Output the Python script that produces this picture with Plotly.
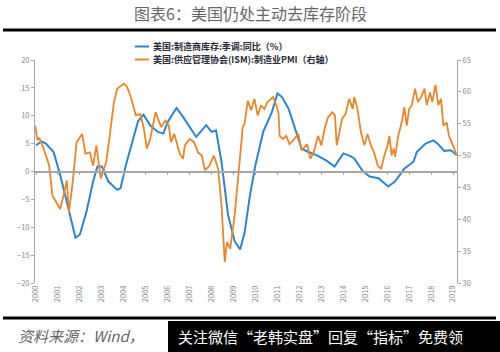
import plotly.graph_objects as go

# ---------------- data (x = position in years) ----------------
inv_x = [2000.0, 2000.25, 2000.45, 2000.65, 2000.8, 2001.1, 2001.4, 2001.6, 2001.8, 2002.0,
         2002.3, 2002.6, 2002.8, 2003.0, 2003.3, 2003.7, 2003.85, 2004.1, 2004.4, 2004.65,
         2004.9, 2005.2, 2005.55, 2005.8, 2006.0, 2006.4, 2006.7, 2007.0, 2007.3, 2007.75,
         2008.0, 2008.2, 2008.45, 2008.75, 2009.05, 2009.3, 2009.5, 2009.75, 2010.0, 2010.35,
         2010.75, 2011.0, 2011.2, 2011.5, 2011.8, 2012.1, 2012.4, 2012.8, 2013.25, 2013.6,
         2014.0, 2014.3, 2014.5, 2014.9, 2015.2, 2015.6, 2016.05, 2016.35, 2016.8, 2017.2,
         2017.35, 2017.75, 2018.1, 2018.3, 2018.6, 2018.9, 2019.17]
inv_y = [4.7, 5.4, 5.0, 4.1, 3.5, -0.6, -5.4, -9.0, -11.9, -11.3,
         -7.2, -1.8, 0.9, 0.9, -1.8, -3.3, -3.0, 1.2, 5.3, 9.0,
         10.2, 8.3, 7.1, 6.8, 8.9, 11.4, 9.8, 8.0, 6.2, 8.3,
         7.1, 7.4, 1.75, -7.8, -12.5, -14.0, -11.0, -4.2, 1.2, 7.1,
         10.7, 14.0, 13.4, 11.3, 7.7, 4.1, 3.5, 2.9, 1.9, 0.9,
         3.25, 2.8, 2.35, 0.0, -0.9, -1.2, -2.7, -1.8, 0.6, 1.75,
         3.5, 5.0, 5.6, 5.0, 3.7, 3.8, 2.9]

pmi_x = [1999.96, 2000.07, 2000.15, 2000.35, 2000.6, 2000.75, 2001.0, 2001.1, 2001.25, 2001.4,
         2001.5, 2001.67, 2001.85, 2002.1, 2002.25, 2002.45, 2002.6, 2002.75, 2002.95, 2003.2,
         2003.35, 2003.55, 2003.7, 2004.0, 2004.15, 2004.3, 2004.55, 2004.75, 2004.9, 2005.05,
         2005.2, 2005.45, 2005.7, 2005.9, 2006.05, 2006.15, 2006.3, 2006.55, 2006.7, 2006.78,
         2007.0, 2007.2, 2007.38, 2007.55, 2007.7, 2007.9, 2008.1, 2008.3, 2008.45, 2008.6,
         2008.7, 2008.85, 2009.05, 2009.3, 2009.42, 2009.5, 2009.65, 2009.8, 2009.95, 2010.1,
         2010.25, 2010.4, 2010.55, 2010.8, 2010.95, 2011.05, 2011.1, 2011.25, 2011.4, 2011.55,
         2011.7, 2011.95, 2012.1, 2012.35, 2012.5, 2012.65, 2012.85, 2013.0, 2013.15, 2013.3,
         2013.5, 2013.62, 2013.7, 2013.95, 2014.1, 2014.27, 2014.43, 2014.5, 2014.65, 2014.8,
         2014.96, 2015.1, 2015.26, 2015.4, 2015.57, 2015.72, 2015.87, 2016.02, 2016.1, 2016.2,
         2016.3, 2016.36, 2016.5, 2016.66, 2016.78, 2016.89, 2017.0, 2017.12, 2017.27, 2017.4,
         2017.55, 2017.7, 2017.8, 2017.95, 2018.05, 2018.2, 2018.33, 2018.45, 2018.56, 2018.71,
         2018.81, 2018.94, 2019.09, 2019.17]
pmi_y = [54.7, 52.4, 52.8, 51.1, 48.4, 43.7, 42.2, 41.6, 43.7, 46.1,
         41.1, 45.8, 52.1, 53.4, 50.3, 50.5, 48.4, 51.6, 46.4, 49.0,
         52.9, 58.4, 60.5, 61.3, 60.8, 59.4, 56.3, 56.5, 54.5, 51.1,
         52.6, 56.8, 54.5, 55.5, 54.7, 52.1, 53.4, 50.3, 49.5, 51.6,
         52.6, 52.1, 50.5, 50.0, 47.7, 48.4, 50.0, 47.9, 42.2, 33.3,
         36.4, 35.4, 40.6, 50.5, 54.5, 55.0, 58.6, 57.1, 58.9, 56.3,
         57.9, 57.3, 58.4, 59.2, 57.9, 56.6, 53.1, 52.6, 53.1, 51.8,
         52.3, 53.4, 50.8, 51.8, 49.5, 50.5, 53.1, 51.6, 54.2, 56.0,
         56.8, 56.3, 51.6, 55.8, 56.5, 58.9, 57.3, 59.2, 57.3, 53.7,
         51.6, 53.4, 51.6, 50.5, 48.4, 47.9, 50.0, 51.6, 53.1, 50.0,
         51.1, 49.8, 53.1, 55.2, 57.6, 54.7, 57.3, 57.9, 60.5, 58.4,
         59.2, 60.5, 57.9, 59.9, 58.4, 61.1, 57.9, 58.9, 54.7, 55.2,
         53.1, 52.1, 50.8, 50.0]

years = list(range(2000, 2020))
year_labels = [str(y) for y in years]

name_inv = "美国:制造商库存:季调:同比（%）"
name_pmi = "美国:供应管理协会(ISM):制造业PMI（右轴）"
title_text = "图表6：美国仍处主动去库存阶段"
source_text = "资料来源：Wind，"
promo_text = "关注微信“老韩实盘”回复“指标”免费领"

BLUE = "#2e86c8"
ORANGE = "#e8862c"
GRAY = "#a6a6a6"
FONT = "Noto Sans CJK SC"

fig = go.Figure()
fig.add_trace(go.Scatter(x=inv_x, y=inv_y, mode="lines", name=name_inv,
                         line=dict(color=BLUE, width=2), yaxis="y"))
fig.add_trace(go.Scatter(x=pmi_x, y=pmi_y, mode="lines", name=name_pmi,
                         line=dict(color=ORANGE, width=1.8), yaxis="y2"))
# invisible helper trace for the zero-line tick axis
fig.add_trace(go.Scatter(x=[years[0]], y=[0], mode="markers", xaxis="x2", yaxis="y",
                         marker=dict(opacity=0), showlegend=False, hoverinfo="skip"))

xr = [1999.954, 2019.18]

fig.update_layout(
    width=500, height=352,
    margin=dict(l=35, r=43, t=60, b=69),
    paper_bgcolor="white", plot_bgcolor="white",
    font=dict(family=FONT, color="#888888", size=8),
    showlegend=False,
    xaxis=dict(range=xr, tickvals=years, ticktext=year_labels, tickangle=-90,
               showgrid=False, zeroline=False, showline=False, ticks="",
               tickfont=dict(size=7.5, color="#8a8a8a")),
    xaxis2=dict(range=xr, overlaying="x", anchor="free", position=0.5,
                tickvals=years, showticklabels=False, ticks="outside", ticklen=3,
                tickcolor=GRAY, showline=True, linecolor=GRAY, linewidth=1.5,
                showgrid=False, zeroline=False),
    yaxis=dict(range=[-20, 20], dtick=5, showgrid=False, zeroline=False,
               showline=True, linecolor=GRAY, linewidth=1, ticks="outside",
               ticklen=3, tickcolor=GRAY, tickfont=dict(size=7.5, color="#8a8a8a")),
    yaxis2=dict(range=[30, 65], dtick=5, overlaying="y", side="right",
                showgrid=False, zeroline=False, showline=True, linecolor=GRAY,
                linewidth=1, ticks="outside", ticklen=3, tickcolor=GRAY,
                tickfont=dict(size=7.5, color="#8a8a8a")),
)

# paper conversions: plot spans pixel x 35..457, y 60..283
def px(X):
    return (X - 35) / 422.0

def py(Y):
    return (283 - Y) / 223.0

LEG_Y = [46.5, 59.5]

shapes = [
    dict(type="line", xref="paper", yref="paper", x0=px(3), x1=px(496), y0=py(30), y1=py(30),
         line=dict(color="black", width=3)),
    dict(type="line", xref="paper", yref="paper", x0=px(3), x1=px(496), y0=py(318), y1=py(318),
         line=dict(color="black", width=3)),
    dict(type="rect", xref="paper", yref="paper", x0=px(168), x1=px(501), y0=py(321), y1=py(353),
         fillcolor="black", line=dict(width=0)),
    # legend samples
    dict(type="line", xref="paper", yref="paper", x0=px(135), x1=px(149), y0=py(LEG_Y[0]), y1=py(LEG_Y[0]),
         line=dict(color=BLUE, width=2)),
    dict(type="line", xref="paper", yref="paper", x0=px(135), x1=px(149), y0=py(LEG_Y[1]), y1=py(LEG_Y[1]),
         line=dict(color=ORANGE, width=2)),
]
fig.update_layout(shapes=shapes)

for name, Y in [(name_inv, LEG_Y[0]), (name_pmi, LEG_Y[1])]:
    fig.add_annotation(x=px(151), y=py(Y), xref="paper", yref="paper", text="<b>" + name + "</b>",
                       showarrow=False, xanchor="left", yanchor="middle",
                       font=dict(family=FONT, size=9, color="#2a2a3a"))

fig.add_annotation(x=px(250), y=py(13), xref="paper", yref="paper", text=title_text,
                   showarrow=False, xanchor="center", yanchor="middle",
                   font=dict(family=FONT, size=16, color="#666666"))
fig.add_annotation(x=px(16), y=py(335), xref="paper", yref="paper",
                   text="<i>" + source_text + "</i>",
                   showarrow=False, xanchor="left", yanchor="middle",
                   font=dict(family=FONT, size=15, color="#666666"))
fig.add_annotation(x=px(176), y=py(336), xref="paper", yref="paper", text=promo_text,
                   showarrow=False, xanchor="left", yanchor="middle",
                   font=dict(family=FONT, size=15, color="white"))

fig.write_html("out.html")
